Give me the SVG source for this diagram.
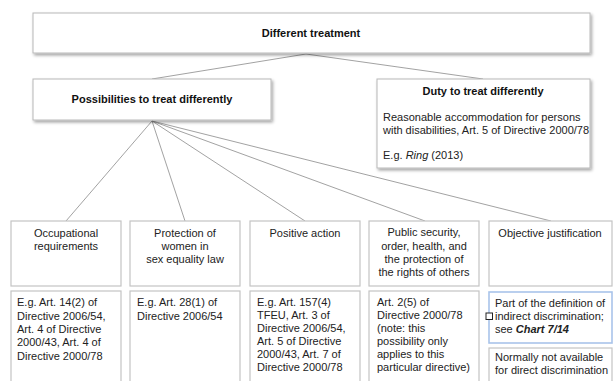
<svg xmlns="http://www.w3.org/2000/svg" width="614" height="381" viewBox="0 0 614 381">
<defs>
<filter id="sh" x="-10%" y="-20%" width="130%" height="150%">
<feDropShadow dx="1.5" dy="2" stdDeviation="1.4" flood-color="#000" flood-opacity="0.35"/>
</filter>
<style>
.top{fill:#fff;stroke:#b8b8b8;stroke-width:1;filter:url(#sh)}
.box{fill:#fff;stroke:#c4c4c4;stroke-width:1.2}
.sel{fill:#fff;stroke:#a9c4ea;stroke-width:1.6}
.t{font-family:"Liberation Sans",Arial,sans-serif;font-size:11px;fill:#222}
.b{font-weight:bold;fill:#111}
.c{text-anchor:middle}
.con line{stroke:#8a8a8a;stroke-width:0.8}
</style>
</defs>
<rect width="614" height="381" fill="#fff"/>
<g class="con" id="connectors">
<line x1="306" y1="54" x2="152" y2="79"/>
<line x1="306" y1="54" x2="483" y2="79"/>
<line x1="152" y1="121" x2="66" y2="221"/>
<line x1="152" y1="121" x2="185" y2="221"/>
<line x1="152" y1="121" x2="305" y2="221"/>
<line x1="152" y1="121" x2="425" y2="221"/>
<line x1="152" y1="121" x2="551" y2="221"/>
</g>
<g id="different-treatment">
<rect class="top" x="33" y="13" width="557" height="40"/>
<text class="t b c" x="311" y="37">Different treatment</text>
</g>
<g id="possibilities">
<rect class="top" x="33" y="79" width="238" height="41"/>
<text class="t b c" x="152" y="103">Possibilities to treat differently</text>
</g>
<g id="duty">
<rect class="top" x="377" y="79" width="213" height="89"/>
<text class="t b c" x="483" y="95">Duty to treat differently</text>
<text class="t" x="383" y="121">Reasonable accommodation for persons</text>
<text class="t" x="383" y="134">with disabilities, Art. 5 of Directive 2000/78</text>
<text class="t" x="383" y="159">E.g. <tspan font-style="italic">Ring</tspan> (2013)</text>
</g>
<g id="occupational">
<rect class="box" x="11" y="221" width="110" height="65"/>
<text class="t c" x="66" y="237">Occupational</text>
<text class="t c" x="66" y="250">requirements</text>
</g>
<g id="occupational-detail">
<rect class="box" x="11" y="291" width="110" height="100"/>
<text class="t" x="17" y="306">E.g. Art. 14(2) of</text>
<text class="t" x="17" y="319.5">Directive 2006/54,</text>
<text class="t" x="17" y="333">Art. 4 of Directive</text>
<text class="t" x="17" y="346">2000/43, Art. 4 of</text>
<text class="t" x="17" y="359.5">Directive 2000/78</text>
</g>
<g id="protection">
<rect class="box" x="130" y="221" width="110" height="65"/>
<text class="t c" x="185" y="237">Protection of</text>
<text class="t c" x="185" y="250">women in</text>
<text class="t c" x="185" y="263">sex equality law</text>
</g>
<g id="protection-detail">
<rect class="box" x="130" y="291" width="110" height="100"/>
<text class="t" x="137" y="306">E.g. Art. 28(1) of</text>
<text class="t" x="137" y="319.5">Directive 2006/54</text>
</g>
<g id="positive">
<rect class="box" x="250" y="221" width="110" height="65"/>
<text class="t c" x="305" y="237">Positive action</text>
</g>
<g id="positive-detail">
<rect class="box" x="250" y="291" width="110" height="100"/>
<text class="t" x="257" y="306">E.g. Art. 157(4)</text>
<text class="t" x="257" y="319">TFEU, Art. 3 of</text>
<text class="t" x="257" y="332">Directive 2006/54,</text>
<text class="t" x="257" y="345">Art. 5 of Directive</text>
<text class="t" x="257" y="358">2000/43, Art. 7 of</text>
<text class="t" x="257" y="371">Directive 2000/78</text>
</g>
<g id="public">
<rect class="box" x="369" y="221" width="110" height="65"/>
<text class="t c" x="424" y="236">Public security,</text>
<text class="t c" x="424" y="249.5">order, health, and</text>
<text class="t c" x="424" y="263">the protection of</text>
<text class="t c" x="424" y="276">the rights of others</text>
</g>
<g id="public-detail">
<rect class="box" x="369" y="291" width="110" height="100"/>
<text class="t" x="377" y="306">Art. 2(5) of</text>
<text class="t" x="377" y="319">Directive 2000/78</text>
<text class="t" x="377" y="332">(note: this</text>
<text class="t" x="377" y="345">possibility only</text>
<text class="t" x="377" y="357.5">applies to this</text>
<text class="t" x="377" y="370.5">particular directive)</text>
</g>
<g id="objective">
<rect class="box" x="489" y="221" width="123" height="65"/>
<text class="t c" x="550" y="237">Objective justification</text>
</g>
<g id="objective-definition">
<rect class="sel" x="489" y="292" width="123" height="51"/>
<rect x="486" y="313" width="6.5" height="6.5" fill="#fff" stroke="#222" stroke-width="1"/>
<text class="t" x="495" y="307">Part of the definition of</text>
<text class="t" x="495" y="320">indirect discrimination;</text>
<text class="t" x="495" y="333">see <tspan font-weight="bold" font-style="italic">Chart 7/14</tspan></text>
</g>
<g id="objective-direct">
<rect class="box" x="489" y="348" width="123" height="45"/>
<text class="t" x="495" y="361">Normally not available</text>
<text class="t" x="495" y="374">for direct discrimination</text>
</g>
</svg>
